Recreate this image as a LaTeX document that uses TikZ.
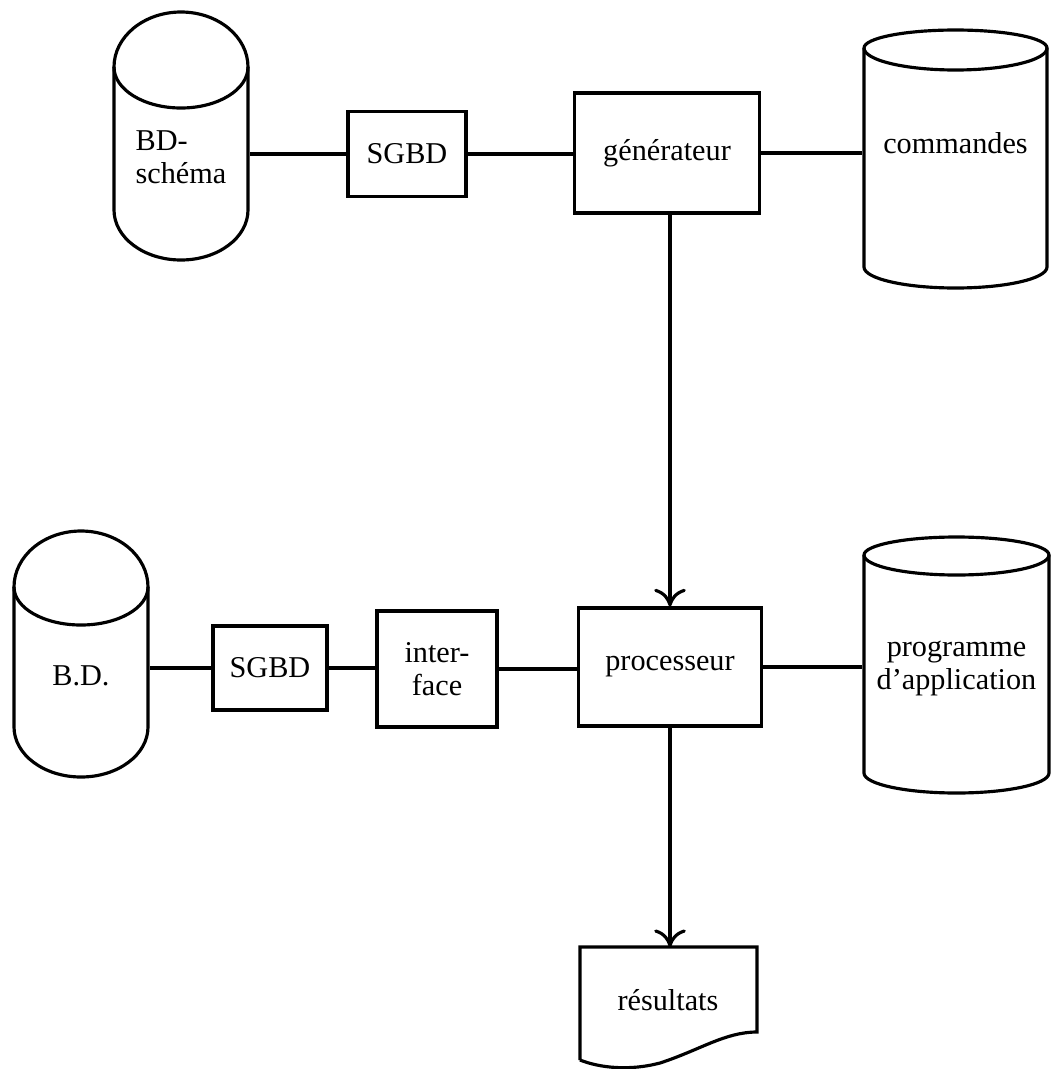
\documentclass[tikz,border=0pt]{standalone}
\usepackage{fontspec}
\setmainfont{Liberation Serif}
\usepackage{tikz}
\usetikzlibrary{arrows.meta, positioning}

\begin{document}
\begin{tikzpicture}[x=0.01cm, y=-0.01cm, line width=0.9pt,
    >={To[length=5pt, width=9pt]},
    police/.style={font=\fontsize{8.6}{9.4}\selectfont},
    boite/.style={draw, police, inner sep=0pt, align=center},
    texte/.style={police, align=center, inner sep=0pt}]

    \useasboundingbox (0,0) rectangle (1051,1069);

    % =================================================================
    % BOITES DE TRAITEMENT
    % =================================================================
    \node[boite, minimum width=1.18cm, minimum height=0.85cm] (sgbdH) at (407,154) {SGBD};
    \node[boite, minimum width=1.85cm, minimum height=1.20cm] (gen) at (667,153) {générateur};
    \node[boite, minimum width=1.14cm, minimum height=0.84cm] (sgbdB) at (270,668) {SGBD};
    \node[boite, minimum width=1.20cm, minimum height=1.16cm] (inter) at (437,669) {inter-\\face};
    \node[boite, minimum width=1.83cm, minimum height=1.18cm] (proc) at (670,667) {processeur};

    % =================================================================
    % FICHIERS (CYLINDRES)
    % =================================================================
    % BD-schema
    \draw (114,67) arc[start angle=180, end angle=360, x radius=67, y radius=55]
        -- (248,210) arc[start angle=0, end angle=180, x radius=67, y radius=50] -- cycle;
    \draw (114,67) arc[start angle=180, end angle=0, x radius=67, y radius=41];
    \node[texte, align=left, minimum width=1.34cm] (bds) at (181,157) {BD-\\schéma};

    % commandes
    \draw (864,48) arc[start angle=180, end angle=360, x radius=91.5, y radius=18]
        -- (1047,267) arc[start angle=0, end angle=180, x radius=91.5, y radius=21] -- cycle;
    \draw (864,48) arc[start angle=180, end angle=0, x radius=91.5, y radius=22];
    \node[texte, minimum width=1.83cm] (cmd) at (955.5,143) {commandes};

    % B.D.
    \draw (14,587) arc[start angle=180, end angle=360, x radius=67, y radius=56]
        -- (148,727) arc[start angle=0, end angle=180, x radius=67, y radius=50] -- cycle;
    \draw (14,587) arc[start angle=180, end angle=0, x radius=67, y radius=38];
    \node[texte, minimum width=1.34cm] (bd) at (81,676) {B.D.};

    % programme d'application
    \draw (864,555) arc[start angle=180, end angle=360, x radius=92.5, y radius=18]
        -- (1049,773) arc[start angle=0, end angle=180, x radius=92.5, y radius=20] -- cycle;
    \draw (864,555) arc[start angle=180, end angle=0, x radius=92.5, y radius=20];
    \node[texte, minimum width=1.85cm] (prog) at (956.5,668) {programme\\d'application};

    % =================================================================
    % DOCUMENT RESULTATS
    % =================================================================
    \draw (580,1060) -- (580,947) -- (757,947) -- (757,1032)
        .. controls (725,1032) and (700,1050) .. (660,1063)
        .. controls (630,1071) and (600,1068) .. (580,1060);
    \node[texte] (res) at (668,1000) {résultats};
    \coordinate (resN) at (670,947);

    % =================================================================
    % LIAISONS
    % =================================================================
    \draw (sgbdH.west) -- (sgbdH.west -| bds.east);
    \draw (sgbdH.east) -- (sgbdH.east -| gen.west);
    \draw (gen.east) -- (gen.east -| cmd.west);
    \draw[->] (proc.north |- gen.south) -- (proc.north);

    \draw (sgbdB.west) -- (sgbdB.west -| bd.east);
    \draw (sgbdB.east) -- (sgbdB.east -| inter.west);
    \draw (inter.east) -- (inter.east -| proc.west);
    \draw (proc.east) -- (proc.east -| prog.west);
    \draw[->] (proc.south) -- (proc.south |- resN);

\end{tikzpicture}
\end{document}
